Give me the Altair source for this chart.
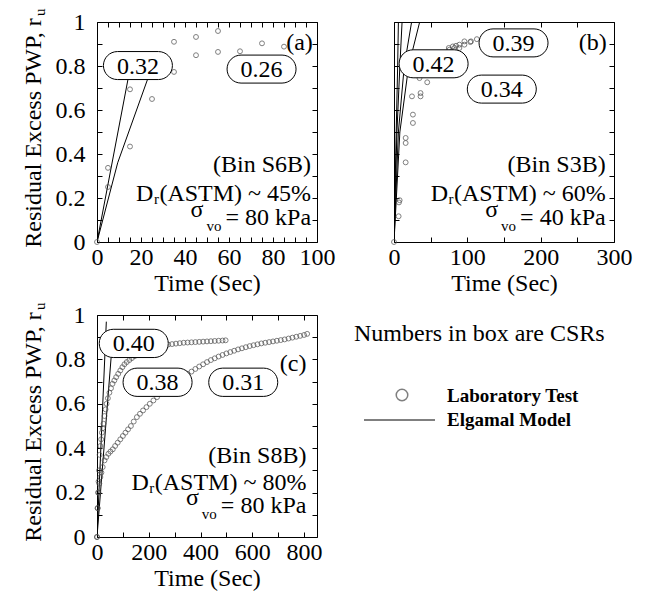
import altair as alt
import pandas as pd

FONT = "Liberation Serif, Times New Roman, Times, serif"
FS = 24
GRAY = "#4a4a4a"

# ---------------- Panel (a) ----------------
A_LAB_T = [0, 5, 5, 15, 15, 25, 35, 35, 45, 45, 55, 55, 65, 75, 85]
A_LAB_RU = [0.0, 0.337, 0.25, 0.694, 0.434, 0.65, 0.773, 0.91, 0.932, 0.849, 0.959, 0.864, 0.867, 0.903, 0.888]
A_MOD_1_T = [0, 16]
A_MOD_1_RU = [0, 0.84]
A_MOD_2_T = [0, 9.4, 23, 25.5]
A_MOD_2_RU = [0, 0.36, 0.74, 0.82]
A_BOX_LABEL = ["0.32", "0.26"]
A_BOX_T = [18.6, 74.8]
A_BOX_RU = [0.802, 0.786]

# ---------------- Panel (b) ----------------
B_LAB_T = [0, 6.3, 6.8, 7.7, 15.9, 15.9, 15.9, 25.8, 25.8, 24.5, 36.2, 36.2, 34.8, 45.3,
           74.7, 75.6, 80.2, 82.4, 84.6, 89.2, 89.2, 96, 96, 104, 105, 113]
B_LAB_RU = [0, 0.117, 0.18, 0.19, 0.362, 0.45, 0.473, 0.541, 0.579, 0.662, 0.662, 0.677, 0.745, 0.726,
            0.882, 0.874, 0.889, 0.882, 0.892, 0.882, 0.897, 0.897, 0.912, 0.909, 0.912, 0.922]
B_MOD_1_T = [0, 3, 5, 6]
B_MOD_1_RU = [0, 0.5, 0.8, 1.0]
B_MOD_2_T = [0, 4, 8, 11, 55]
B_MOD_2_RU = [0, 0.5, 0.8, 1.0, 1.0]
B_MOD_3_T = [0, 6, 14, 24]
B_MOD_3_RU = [0, 0.5, 0.8, 1.0]
B_MOD_4_T = [0, 8, 20, 35]
B_MOD_4_RU = [0, 0.5, 0.8, 1.0]
B_BOX_LABEL = ["0.39", "0.42", "0.34"]
B_BOX_T = [163, 54, 147]
B_BOX_RU = [0.905, 0.81, 0.695]

# ---------------- Panel (c) ----------------
C_LAB38_T = [0, 2, 4, 6, 8, 10, 13, 16, 19, 22, 25, 29, 33, 37, 42, 48, 54, 60, 67, 74, 82, 90, 98,
             106, 115, 125, 135, 146, 157, 168, 180, 192, 205, 218, 232, 246, 260, 275, 290, 305,
             320, 335, 350, 365, 380, 395, 410, 425, 440, 455, 470, 485, 497]
C_LAB38_RU = [0, 0.13, 0.2, 0.25, 0.3, 0.37, 0.41, 0.44, 0.47, 0.49, 0.51, 0.545, 0.575, 0.6, 0.625,
              0.65, 0.67, 0.69, 0.705, 0.72, 0.735, 0.75, 0.765, 0.778, 0.788, 0.797, 0.806, 0.815,
              0.822, 0.83, 0.836, 0.842, 0.848, 0.853, 0.857, 0.861, 0.864, 0.867, 0.869, 0.871,
              0.873, 0.875, 0.876, 0.877, 0.878, 0.879, 0.88, 0.881, 0.882, 0.883, 0.884, 0.885, 0.886]
C_LAB31_T = [0, 3, 6, 9, 13, 17, 22, 29, 36, 44, 52, 61, 70, 80, 90, 100, 110, 120, 131, 142, 154,
             166, 178, 191, 204, 218, 232, 246, 260, 275, 290, 305, 320, 335, 350, 365, 380, 395,
             410, 425, 440, 455, 470, 485, 500, 515, 530, 545, 560, 575, 590, 605, 620, 635, 650,
             665, 680, 695, 710, 725, 740, 755, 770, 785, 800, 812]
C_LAB31_RU = [0, 0.13, 0.2, 0.24, 0.27, 0.29, 0.315, 0.345, 0.36, 0.375, 0.385, 0.395, 0.41, 0.425,
              0.44, 0.455, 0.47, 0.485, 0.5, 0.52, 0.54, 0.555, 0.57, 0.585, 0.6, 0.615, 0.63, 0.645,
              0.66, 0.675, 0.69, 0.7, 0.715, 0.725, 0.735, 0.745, 0.757, 0.768, 0.778, 0.788, 0.797,
              0.805, 0.813, 0.82, 0.827, 0.833, 0.839, 0.845, 0.85, 0.855, 0.86, 0.864, 0.868, 0.872,
              0.875, 0.878, 0.881, 0.884, 0.887, 0.89, 0.894, 0.898, 0.902, 0.906, 0.91, 0.915]
C_MOD_1_T = [0, 36]
C_MOD_1_RU = [0, 0.97]
C_MOD_2_T = [0, 58]
C_MOD_2_RU = [0, 0.86]
C_BOX_LABEL = ["0.40", "0.38", "0.31"]
C_BOX_T = [142, 234, 565]
C_BOX_RU = [0.872, 0.697, 0.697]

Y_TICKS = [0, 0.1, 0.2, 0.3, 0.4, 0.5, 0.6, 0.7, 0.8, 0.9, 1.0]
Y_TITLE = "Residual Excess PWP, r"
Y_TITLE_SUB = "u"
X_TITLE = "Time (Sec)"
LEGEND_NOTE = "Numbers in box are CSRs"
LEGEND_LAB = "Laboratory Test"
LEGEND_MOD = "Elgamal Model"

# Times / Liberation Serif advance widths (per 1000 em)
TW = {'(': 333, ')': 333, 'A': 722, 'S': 556, 'T': 611, 'M': 889, ' ': 250, '~': 541,
      '%': 833, '=': 564, 'k': 500, 'P': 556, 'a': 444, 'v': 500, 'o': 500, 'r': 333,
      'D': 722, 'R': 667, 'e': 444, 's': 389, 'i': 278, 'd': 500, 'u': 500, 'l': 278,
      'E': 611, 'x': 500, 'c': 444, 'W': 944, ',': 250}


def tw(s, size):
    return sum(TW.get(ch, 500) for ch in s) * size / 1000.0


def make_lab(ts, rus):
    return pd.DataFrame({"t": ts, "ru": rus})


def make_mod(series):
    rows = []
    for k, (ts, rus) in enumerate(series):
        for i, (t, r) in enumerate(zip(ts, rus)):
            rows.append({"series": f"m{k}", "i": i, "t": t, "ru": r})
    return pd.DataFrame(rows)


def make_box(labels, ts, rus, xmax, w):
    kx = xmax / w
    hw, hh = 34.5, 14.0
    ky = 1.0 / 220.0
    return pd.DataFrame({
        "label": labels, "t": ts, "ru": rus,
        "x0": [t - hw * kx for t in ts], "x1": [t + hw * kx for t in ts],
        "y0": [r - hh * ky for r in rus], "y1": [r + hh * ky for r in rus],
    })


def axis(orient, values, labels, expr=None, title=None, pad=3):
    kw = dict(orient=orient, values=values, tickSize=5, offset=-5, domain=False, grid=False,
              ticks=True, tickColor="black", tickWidth=1, labels=labels)
    if labels:
        kw.update(labelFont=FONT, labelFontSize=FS, labelColor="black", labelPadding=pad,
                  labelOverlap=False, labelFlush=False, labelBound=False)
        if expr:
            kw["labelExpr"] = expr
    if title:
        kw.update(title=title, titleFont=FONT, titleFontSize=FS, titleFontWeight="normal",
                  titleColor="black", titlePadding=2)
    else:
        kw["title"] = None
    return alt.Axis(**kw)


def panel(lab_df, mod_df, box_df, xmax, xticks, xlabstep, w, h, tag, tag_x, tag_y,
          note_x, note_ys, bin_txt, dr_txt, sig_txt, ylabels):
    xs = alt.Scale(domain=[0, xmax], nice=False, zero=False)
    ys = alt.Scale(domain=[0, 1], nice=False, zero=False)
    xexpr = f"datum.value % {xlabstep} == 0 ? datum.label : ''"
    yexpr = "round(datum.value * 10) % 2 == 0 ? format(datum.value, '~g') : ''"

    lines = alt.Chart(mod_df).mark_line(color="black", strokeWidth=1, clip=True).encode(
        x=alt.X("t:Q", scale=xs, axis=axis("top", xticks, False)),
        y=alt.Y("ru:Q", scale=ys, axis=axis("right", Y_TICKS, False)),
        detail="series:N", order="i:Q")
    pts = alt.Chart(lab_df).mark_point(shape="circle", filled=False, size=24, color=GRAY,
                                        strokeWidth=1).encode(
        x=alt.X("t:Q", scale=xs, axis=axis("bottom", xticks, True, xexpr, X_TITLE, 3)),
        y=alt.Y("ru:Q", scale=ys, axis=axis("left", Y_TICKS, ylabels, yexpr if ylabels else None, None, 12)))
    boxes = alt.Chart(box_df).mark_rect(fill="white", stroke="black", strokeWidth=1,
                                        cornerRadius=14).encode(
        x=alt.X("x0:Q", scale=xs, axis=None), x2="x1",
        y=alt.Y("y0:Q", scale=ys, axis=None), y2="y1")
    boxtxt = alt.Chart(box_df).mark_text(font=FONT, fontSize=FS, color="black",
                                         baseline="middle", dy=1).encode(
        x=alt.X("t:Q", scale=xs, axis=None), y=alt.Y("ru:Q", scale=ys, axis=None),
        text="label:N")

    nd = pd.DataFrame({"x": [note_x], "y1": [note_ys[0]], "y2": [note_ys[1]], "y3": [note_ys[2]],
                       "tx": [tag_x], "ty": [tag_y]})

    def txt(s, yfield, size=FS, align="right", dx=0, dy=0, xfield="x"):
        return alt.Chart(nd).mark_text(text=s, font=FONT, fontSize=size, color="black", align=align,
                                       baseline="alphabetic", dx=dx, dy=dy).encode(
            x=alt.X(f"{xfield}:Q", scale=xs, axis=None),
            y=alt.Y(f"{yfield}:Q", scale=ys, axis=None))

    w_dr = tw(dr_txt, FS)
    w_sig = tw(sig_txt, FS)
    vo_l = w_sig + 4 + 15          # distance from right edge to left of "vo"
    notes = [
        txt(tag, "ty", xfield="tx"),
        txt(bin_txt, "y1"),
        txt(dr_txt, "y2"),
        txt("r", "y2", size=15, dx=-w_dr - 0.5, dy=3),
        txt("D", "y2", dx=-w_dr - tw("r", 15) - 1),
        txt(sig_txt, "y3"),
        txt("vo", "y3", size=15, dx=-w_sig - 4, dy=6),
        txt("σ", "y3", dx=-vo_l - 3, dy=-8),
        txt("'", "y3", size=14, align="left", dx=-vo_l - 3, dy=-19),
    ]
    layers = [lines, pts, boxes, boxtxt] + notes
    if ylabels:
        half = tw(Y_TITLE, FS) / 2
        layers.append(alt.Chart(nd).mark_text(text=Y_TITLE, font=FONT, fontSize=FS, color="black",
                                              angle=270, align="center", baseline="middle").encode(
            x=alt.value(-63), y=alt.value(h / 2 + 1)))
        layers.append(alt.Chart(nd).mark_text(text=Y_TITLE_SUB, font=FONT, fontSize=15, color="black",
                                              angle=270, align="left", baseline="middle").encode(
            x=alt.value(-57), y=alt.value(h / 2 + 1 - half - 1)))
    return alt.layer(*layers).resolve_axis(x="independent", y="independent").properties(
        width=w, height=h)


pa = panel(make_lab(A_LAB_T, A_LAB_RU),
           make_mod([(A_MOD_1_T, A_MOD_1_RU), (A_MOD_2_T, A_MOD_2_RU)]),
           make_box(A_BOX_LABEL, A_BOX_T, A_BOX_RU, 100, 220),
           100, list(range(0, 101, 5)), 20, 220, 220, "(a)", 98.1, 0.873,
           97.3, [0.318, 0.186, 0.077], "(Bin S6B)", "(ASTM) ~ 45%", "= 80 kPa", True)

pb = panel(make_lab(B_LAB_T, B_LAB_RU),
           make_mod([(B_MOD_1_T, B_MOD_1_RU), (B_MOD_2_T, B_MOD_2_RU),
                     (B_MOD_3_T, B_MOD_3_RU), (B_MOD_4_T, B_MOD_4_RU)]),
           make_box(B_BOX_LABEL, B_BOX_T, B_BOX_RU, 300, 220),
           300, list(range(0, 301, 50)), 100, 220, 220, "(b)", 290, 0.873,
           288.6, [0.318, 0.186, 0.077], "(Bin S3B)", "(ASTM) ~ 60%", "= 40 kPa", False)

c_lab = pd.concat([make_lab(C_LAB38_T, C_LAB38_RU), make_lab(C_LAB31_T, C_LAB31_RU)], ignore_index=True)
pc = panel(c_lab,
           make_mod([(C_MOD_1_T, C_MOD_1_RU), (C_MOD_2_T, C_MOD_2_RU)]),
           make_box(C_BOX_LABEL, C_BOX_T, C_BOX_RU, 850, 220),
           850, list(range(0, 801, 100)), 200, 220, 222, "(c)", 809, 0.749,
           809, [0.332, 0.211, 0.108], "(Bin S8B)", "(ASTM) ~ 80%", "= 80 kPa", True)

ld = pd.DataFrame({"k": [0]})
leg = alt.layer(
    alt.Chart(ld).mark_text(text=LEGEND_NOTE, font=FONT, fontSize=FS, color="black", align="left",
                            baseline="alphabetic").encode(x=alt.value(-40), y=alt.value(26)),
    alt.Chart(ld).mark_point(shape="circle", filled=False, size=133, color=GRAY, strokeWidth=1.5).encode(
        x=alt.value(8), y=alt.value(80)),
    alt.Chart(ld).mark_text(text=LEGEND_LAB, font=FONT, fontSize=19, fontWeight="bold", color="black",
                            align="left", baseline="alphabetic").encode(x=alt.value(53), y=alt.value(87)),
    alt.Chart(ld).mark_rule(color="black", strokeWidth=1).encode(
        x=alt.value(-30), x2=alt.value(41), y=alt.value(105)),
    alt.Chart(ld).mark_text(text=LEGEND_MOD, font=FONT, fontSize=19, fontWeight="bold", color="black",
                            align="left", baseline="alphabetic").encode(x=alt.value(53), y=alt.value(111)),
).properties(width=220, height=222, view=alt.ViewBackground(stroke=None))

chart = alt.concat(pa, pb, pc, leg, columns=2, bounds="flush",
                   spacing=alt.RowColnumber(row=73, column=77)).properties(
    padding={"left": 13, "top": 0, "right": 5, "bottom": 0}
).configure_view(stroke="black", strokeWidth=1)

chart.save("out.html", embed_options={"renderer": "svg", "actions": False})
